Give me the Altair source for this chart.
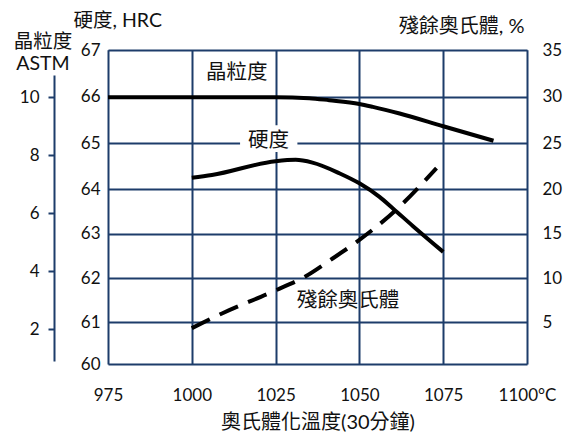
import altair as alt
import pandas as pd

# ---- data ----
grain_temp = [975, 1000, 1025, 1035, 1041, 1050, 1054, 1062, 1075, 1090]
grain_astm = [10.0, 10.0, 10.0, 9.97, 9.90, 9.77, 9.67, 9.44, 9.0, 8.5]

hard_temp = [1000, 1006, 1025, 1031, 1036, 1044, 1050, 1056, 1060, 1066, 1075]
hard_hrc = [64.25, 64.31, 64.61, 64.64, 64.58, 64.35, 64.13, 63.83, 63.57, 63.17, 62.59]

aust_temp = [1000, 1009, 1025, 1034, 1042, 1050, 1061, 1073]
aust_pct = [4.3, 6.0, 8.6, 10.2, 12.2, 14.3, 17.7, 22.3]

x_ticks = [975, 1000, 1025, 1050, 1075, 1100]
hrc_ticks = [60, 61, 62, 63, 64, 65, 66, 67]
astm_ticks = [2, 4, 6, 8, 10]
pct_ticks = [5, 10, 15, 20, 25, 30, 35]

label_text = ["晶粒度", "硬度", "殘餘奧氏體"]
label_temp = [1013.4, 1022.9, 1046.6]
label_hrc = [66.5, 65.05, 61.47]

mask_temp = [1014.4]
mask_temp2 = [1031.5]
mask_hrc = [64.81]
mask_hrc2 = [65.39]

NAVY = "#1d3c6a"
LATIN = "Lato, 'Noto Sans CJK TC', sans-serif"
CJK = "'Noto Sans CJK TC', sans-serif"
W, H = 419, 314

grain_df = pd.DataFrame({"temp": grain_temp, "astm": grain_astm})
hard_df = pd.DataFrame({"temp": hard_temp, "hrc": hard_hrc})
aust_df = pd.DataFrame({"temp": aust_temp, "pct": aust_pct})
label_df = pd.DataFrame({"temp": label_temp, "hrc": label_hrc, "text": label_text})
mask_df = pd.DataFrame({"temp": mask_temp, "temp2": mask_temp2, "hrc": mask_hrc, "hrc2": mask_hrc2})

# piecewise ranges measured from the (hand drawn) grid
hrc_range = [314.3, 272.3, 228, 183.7, 139.3, 93.3, 46.7, 0]
hrc_scale = alt.Scale(domain=hrc_ticks, range=hrc_range, nice=False, zero=False)
pct_scale = alt.Scale(domain=[0] + pct_ticks, range=hrc_range, nice=False, zero=False)
astm_scale = alt.Scale(domain=[0.9, 10.77], range=[311, 25], nice=False, zero=False)
x_scale = alt.Scale(domain=[975, 1100], nice=False, zero=False)

x_axis = alt.Axis(
    values=x_ticks,
    labelExpr="datum.value == 1100 ? '1100°C' : '' + datum.value",
    grid=True, gridColor=NAVY, gridWidth=2, gridOpacity=1,
    domain=False, ticks=False, tickSize=0,
    labelPadding=36, labelBaseline="alphabetic", labelFlush=False,
    labelFont=LATIN, labelFontSize=17, labelColor="#111111",
    title="奧氏體化溫度(30分鐘)", titleFont=LATIN, titleFontSize=20,
    titleFontWeight="normal", titleColor="#111111",
    titleY=64, titleBaseline="alphabetic",
)


def xenc(field="temp"):
    return alt.X(f"{field}:Q", scale=x_scale, axis=x_axis, title="奧氏體化溫度(30分鐘)")


hrc_axis = alt.Axis(
    orient="left", values=hrc_ticks,
    grid=True, gridColor=NAVY, gridWidth=2, gridOpacity=1,
    domain=False, ticks=False, tickSize=0, labelPadding=8,
    labelFont=LATIN, labelFontSize=17, labelColor="#111111",
    title="硬度, HRC", titleFont=LATIN, titleFontSize=19.5, titleFontWeight="normal",
    titleColor="#111111", titleAngle=0, titleX=-35, titleY=-24,
    titleAlign="left", titleBaseline="alphabetic",
)

astm_axis = alt.Axis(
    orient="left", offset=54, values=astm_ticks, grid=False,
    domain=True, domainColor=NAVY, domainWidth=2,
    ticks=True, tickColor=NAVY, tickWidth=2, tickSize=6, labelPadding=9,
    labelFont=LATIN, labelFontSize=17, labelColor="#111111",
    title=["晶粒度", "ASTM"], titleFont=LATIN, titleFontSize=19.5, titleFontWeight="normal",
    titleColor="#111111", titleAngle=0, titleX=-11.5, titleY=-2.5,
    titleAlign="center", titleBaseline="alphabetic", titleLineHeight=22,
)

pct_axis = alt.Axis(
    orient="right", values=pct_ticks, grid=False,
    domain=False, ticks=False, tickSize=0, labelPadding=15, labelAlign="left",
    labelFont=LATIN, labelFontSize=17, labelColor="#111111",
    title="殘餘奧氏體, %", titleFont=LATIN, titleFontSize=20, titleFontWeight="normal",
    titleColor="#111111", titleAngle=0, titleX=-3, titleY=-18,
    titleAlign="right", titleBaseline="alphabetic",
)

hard_line = alt.Chart(hard_df).mark_line(
    color="black", strokeWidth=4, interpolate="monotone", strokeCap="butt"
).encode(x=xenc(), y=alt.Y("hrc:Q", scale=hrc_scale, axis=hrc_axis))

grain_line = alt.Chart(grain_df).mark_line(
    color="black", strokeWidth=4, interpolate="monotone", strokeCap="butt"
).encode(x=xenc(), y=alt.Y("astm:Q", scale=astm_scale, axis=astm_axis))

aust_line = alt.Chart(aust_df).mark_line(
    color="black", strokeWidth=4, interpolate="monotone", strokeDash=[20, 11], strokeCap="butt"
).encode(x=xenc(), y=alt.Y("pct:Q", scale=pct_scale, axis=pct_axis))

mask = alt.Chart(mask_df).mark_rect(color="white").encode(
    x=xenc(), x2="temp2:Q",
    y=alt.Y("hrc:Q", scale=hrc_scale, axis=None), y2="hrc2:Q",
)

labels = alt.Chart(label_df).mark_text(
    font=CJK, fontSize=20.5, color="#111111", align="center", baseline="middle"
).encode(x=xenc(), y=alt.Y("hrc:Q", scale=hrc_scale, axis=None), text="text:N")

chart = alt.layer(
    hard_line, grain_line, aust_line, mask, labels
).resolve_scale(y="independent").properties(
    width=W, height=H,
    autosize=alt.AutoSizeParams(type="none"),
    padding={"left": 100, "top": 42, "right": 40, "bottom": 70},
).configure_view(stroke=NAVY, strokeWidth=2).configure(background="white")

chart.save("out.html", embed_options={"renderer": "svg", "actions": False})
